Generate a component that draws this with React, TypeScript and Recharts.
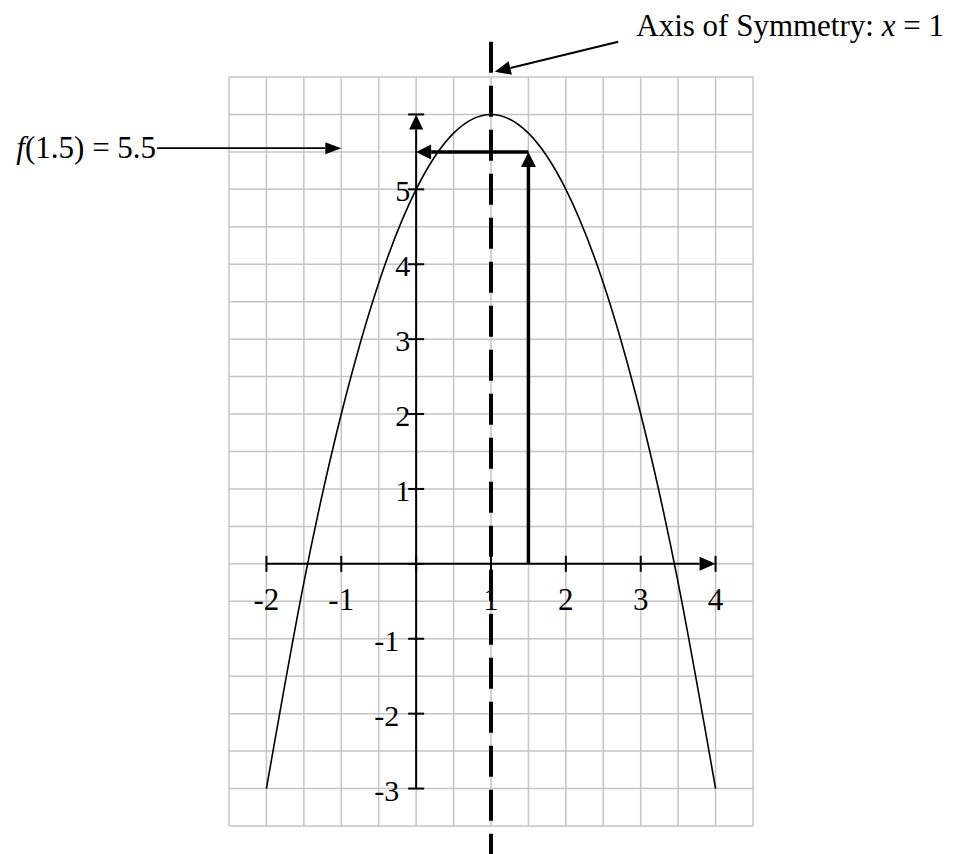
import {
  ComposedChart,
  Line,
  XAxis,
  YAxis,
  CartesianGrid,
  ReferenceLine,
  ReferenceDot,
} from "recharts";

// points (half-unit steps)
const curveX = [-2, -1.5, -1, -0.5, 0, 0.5, 1, 1.5, 2, 2.5, 3, 3.5, 4];
const curveY = [-3, -0.25, 2, 3.75, 5, 5.75, 6, 5.75, 5, 3.75, 2, -0.25, -3];

// axis ticks and their labels
const xTicks = [-2, -1, 0, 1, 2, 3, 4];
const xTickLabels = ["-2", "-1", "", "1", "2", "3", "4"];
const yTicks = [-3, -2, -1, 0, 1, 2, 3, 4, 5, 6];
const yTickLabels = ["-3", "-2", "-1", "", "1", "2", "3", "4", "5", ""];

// graph paper lines, every half unit
const gridX = [-2.5, -2, -1.5, -1, -0.5, 0, 0.5, 1, 1.5, 2, 2.5, 3, 3.5, 4, 4.5];
const gridY = [
  -3.5, -3, -2.5, -2, -1.5, -1, -0.5, 0, 0.5, 1, 1.5, 2, 2.5, 3, 3.5, 4, 4.5,
  5, 5.5, 6, 6.5,
];

const symmetryX = 1;
const evalX = 1.5;
const evalY = 5.5;
const evalLabel = "f(1.5) = 5.5";

// annotation anchors (data units)
const symArrowFrom = { x: 2.7, y: 6.97 };
const symArrowTo = { x: 1.05, y: 6.57 };
const symLineTop = 6.97;
const symLineBottom = -4;
const evalArrowFrom = { x: -3.46, y: 5.55 };
const evalArrowTo = { x: -1, y: 5.55 };

const data = curveX.map((x, i) => ({ x, y: curveY[i] }));

const FONT = "'Liberation Serif', 'Times New Roman', serif";

const arrow =
  (width: number, head: number, half: number, extra?: (p: any) => any) =>
  (p: any) => {
    const { x1, y1, x2, y2 } = p;
    const dx = x2 - x1;
    const dy = y2 - y1;
    const len = Math.hypot(dx, dy) || 1;
    const ux = dx / len;
    const uy = dy / len;
    const bx = x2 - ux * head;
    const by = y2 - uy * head;
    const nx = -uy * half;
    const ny = ux * half;
    return (
      <g>
        <line x1={x1} y1={y1} x2={bx} y2={by} stroke="#000" strokeWidth={width} />
        <polygon
          points={`${x2},${y2} ${bx + nx},${by + ny} ${bx - nx},${by - ny}`}
          fill="#000"
        />
        {extra ? extra(p) : null}
      </g>
    );
  };

const xTickShape = (label: string) => (p: any) => (
  <g>
    <line x1={p.cx} y1={p.cy - 8} x2={p.cx} y2={p.cy + 8} stroke="#000" strokeWidth={2} />
    <text x={p.cx} y={p.cy + 46} textAnchor="middle" fontSize={31} fontFamily={FONT} fill="#000">
      {label}
    </text>
  </g>
);

const yTickShape = (label: string, value: number) => (p: any) => (
  <g>
    <line x1={p.cx - 8} y1={p.cy} x2={p.cx + 8} y2={p.cy} stroke="#000" strokeWidth={2} />
    <text
      x={p.cx - (value < 0 ? 17 : 6)}
      y={p.cy + 12}
      textAnchor="end"
      fontSize={30}
      fontFamily={FONT}
      fill="#000"
    >
      {label}
    </text>
  </g>
);

export default function App() {
  return (
    <div style={{ position: "absolute", left: 0, top: 0 }}>
      <ComposedChart
        width={954}
        height={854}
        data={data}
        margin={{ top: 77, right: 201, bottom: 28, left: 229 }}
      >
        <XAxis type="number" dataKey="x" domain={[-2.5, 4.5]} ticks={gridX} hide />
        <YAxis type="number" domain={[-3.5, 6.5]} ticks={gridY} hide />
        <CartesianGrid stroke="#c4c4c4" strokeWidth={1.5} />

        <Line
          dataKey="y"
          type="natural"
          stroke="#000"
          strokeWidth={1.6}
          dot={false}
          activeDot={false}
          isAnimationActive={false}
        />

        {/* x axis */}
        <ReferenceLine
          segment={[
            { x: xTicks[0], y: 0 },
            { x: xTicks[xTicks.length - 1], y: 0 },
          ]}
          ifOverflow="visible"
          shape={arrow(2, 16, 7)}
        />
        {/* y axis */}
        <ReferenceLine
          segment={[
            { x: 0, y: yTicks[0] },
            { x: 0, y: yTicks[yTicks.length - 1] },
          ]}
          ifOverflow="visible"
          shape={arrow(2, 15, 7)}
        />
        {xTicks.map((t, i) => (
          <ReferenceDot key={`xt${t}`} x={t} y={0} ifOverflow="visible" shape={xTickShape(xTickLabels[i])} />
        ))}
        {yTicks.map((t, i) => (
          <ReferenceDot key={`yt${t}`} x={0} y={t} ifOverflow="visible" shape={yTickShape(yTickLabels[i], t)} />
        ))}

        {/* f(1.5) arrows */}
        <ReferenceLine
          segment={[
            { x: evalX, y: 0 },
            { x: evalX, y: evalY },
          ]}
          ifOverflow="visible"
          shape={arrow(3.5, 15, 7.5)}
        />
        <ReferenceLine
          segment={[
            { x: evalX, y: evalY },
            { x: 0, y: evalY },
          ]}
          ifOverflow="visible"
          shape={arrow(3.5, 15, 7.5)}
        />

        {/* axis of symmetry */}
        <ReferenceLine
          segment={[
            { x: symmetryX, y: symLineTop },
            { x: symmetryX, y: symLineBottom },
          ]}
          ifOverflow="visible"
          stroke="#000"
          strokeWidth={4}
          strokeDasharray="31 13"
        />
        <ReferenceLine
          segment={[symArrowFrom, symArrowTo]}
          ifOverflow="visible"
          shape={arrow(2, 16, 7, (p) => (
            <text x={p.x1 + 18} y={p.y1 - 6} fontSize={31} fontFamily={FONT} fill="#000">
              Axis of Symmetry: <tspan fontStyle="italic">x</tspan> = {symmetryX}
            </text>
          ))}
        />
        <ReferenceLine
          segment={[evalArrowFrom, evalArrowTo]}
          ifOverflow="visible"
          shape={arrow(1.6, 16, 6, (p) => (
            <text x={p.x1 - 1} y={p.y1 + 10} textAnchor="end" fontSize={31} fontFamily={FONT} fill="#000">
              <tspan fontStyle="italic">f</tspan>
              {evalLabel.slice(1)}
            </text>
          ))}
        />
      </ComposedChart>
    </div>
  );
}
